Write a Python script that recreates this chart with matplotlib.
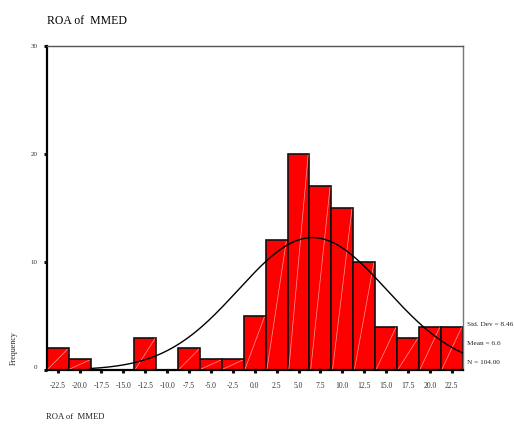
import numpy as np
import matplotlib
matplotlib.use('Agg')
import matplotlib.pyplot as plt

plt.rcParams['font.family'] = ['Liberation Serif', 'DejaVu Serif']

# histogram of ROA of MMED (SPSS style)
bin_centers = [-22.5, -20.0, -17.5, -15.0, -12.5, -10.0, -7.5, -5.0, -2.5, 0.0,
               2.5, 5.0, 7.5, 10.0, 12.5, 15.0, 17.5, 20.0, 22.5]
counts = [2, 1, 0, 0, 3, 0, 2, 1, 1, 5, 12, 20, 17, 15, 10, 4, 3, 4, 4]
bin_width = 2.5
std_dev = 8.46
mean = 6.6
n_obs = 104.00
curve_start = -18.75
y_ticks = [0, 10, 20, 30]

fig = plt.figure(figsize=(5.14, 4.24), dpi=100)
ax = fig.add_axes([0.0909, 0.1274, 0.8093, 0.764])

centers = np.array(bin_centers)
heights = np.array(counts)
ax.bar(centers, heights, width=bin_width, color='#ff0000', edgecolor='#111111',
       linewidth=1.2, zorder=2)
# light diagonal pattern lines inside the bars
for c, h in zip(centers, heights):
    if h > 0:
        ax.plot([c - bin_width / 2 + 0.15, c + bin_width / 2 - 0.15], [0.1, h - 0.1],
                color='#ff9a9a', lw=0.5, zorder=3)

# fitted normal curve
xs = np.linspace(curve_start, centers[-1] + bin_width / 2, 300)
ys = n_obs * bin_width / (std_dev * np.sqrt(2 * np.pi)) * np.exp(-0.5 * ((xs - mean) / std_dev) ** 2)
ax.plot(xs, ys, color='black', lw=1.0, zorder=4)

ax.set_xlim(centers[0] - bin_width / 2, centers[-1] + bin_width / 2)
ax.set_ylim(0, 30)
ax.set_xticks(centers)
ax.set_xticklabels(['%.1f' % c for c in centers])
ax.set_yticks(y_ticks)
ax.set_yticklabels([str(t) for t in y_ticks])
ax.tick_params(axis='x', length=2.5, width=2.2, pad=6, labelsize=5.5, colors='#111111')
ax.tick_params(axis='y', length=2.5, width=2.2, pad=4, labelsize=5, colors='#111111')
for lab in ax.get_yticklabels():
    lab.set_color('#333333')
for lab in ax.get_xticklabels():
    lab.set_color('#333333')
ax.get_yticklabels()[0].set_va('bottom')

ax.spines['left'].set_linewidth(1.6)
ax.spines['left'].set_color('black')
ax.spines['bottom'].set_linewidth(1.6)
ax.spines['bottom'].set_color('black')
ax.spines['top'].set_linewidth(1.0)
ax.spines['top'].set_color('#555555')
ax.spines['right'].set_linewidth(1.0)
ax.spines['right'].set_color('#777777')

fig.text(47 / 514, 1 - 21 / 424, 'ROA of  MMED', fontsize=8.5, ha='left', va='center')
fig.text(46 / 514, 1 - 417 / 424, 'ROA of  MMED', fontsize=6.2, ha='left', va='center',
         color='#222222')
fig.text(14 / 514, 1 - 348 / 424, 'Frequency', fontsize=5.8, rotation=90,
         ha='center', va='center', color='#222222')

stats = ['Std. Dev = %.2f' % std_dev, 'Mean = %.1f' % mean, 'N = %.2f' % n_obs]
for i, s in enumerate(stats):
    fig.text(467 / 514, 1 - (325 + i * 18.5) / 424, s, fontsize=5.2,
             ha='left', va='center', color='#222222')

fig.savefig('out.png', dpi=100)
